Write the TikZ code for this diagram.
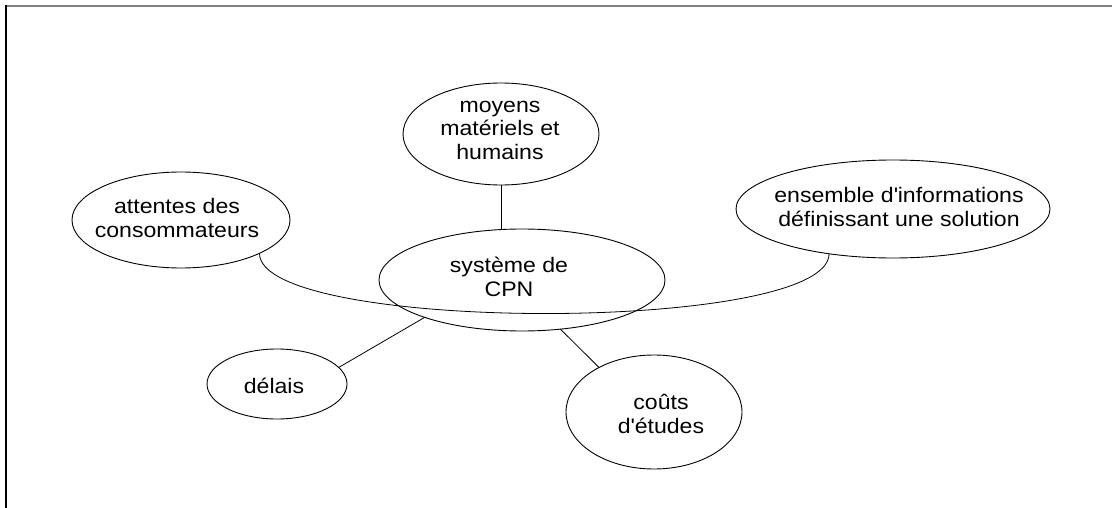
\documentclass[tikz,border=0pt]{standalone}
\usepackage{fontspec}
\setmainfont{Liberation Sans}[FakeStretch=1.1]
\usetikzlibrary{shapes.geometric}
\begin{document}
\begin{tikzpicture}
            [x=1pt, y=-1pt,
            ovale/.style={draw=black, ellipse, inner sep=0pt, outer sep=0pt, line width=0.9pt},
            texte/.style={inner sep=0pt, align=center, font=\fontsize{21}{23.5}\selectfont},
            lien/.style={draw=black, line width=0.8pt}]
            \useasboundingbox (0,0) rectangle (1112,508);
            \draw[gray, line width=2pt] (5,6) -- (1112,6);
            \draw[line width=2pt] (6,5) -- (6,508);
            % bulles
            \node[ovale, minimum width=286pt, minimum height=102pt] (sys) at (522,280) {};
            \node[ovale, minimum width=196pt, minimum height=102pt] (moy) at (501,134) {};
            \node[ovale, minimum width=218pt, minimum height=96pt] (att) at (181,220) {};
            \node[ovale, minimum width=314pt, minimum height=98pt] (ens) at (893,209) {};
            \node[ovale, minimum width=140pt, minimum height=70pt] (del) at (277,384) {};
            \node[ovale, minimum width=176pt, minimum height=114pt] (cou) at (654,412) {};
            % textes
            \node[texte] (sys-t) at (509,277) {système de\\CPN};
            \node[texte] (moy-t) at (500,130) {moyens\\matériels et\\humains};
            \node[texte] (att-t) at (177,218) {attentes des\\consommateurs};
            \node[texte] (ens-t) at (899,207) {ensemble d\textquotesingle informations\\définissant une solution};
            \node[texte] (del-t) at (274,386) {délais};
            \node[texte] (cou-t) at (661,414) {coûts\\d\textquotesingle études};
            % liens
            \draw[lien] (moy.south) -- (moy.south |- sys.north);
            \draw[lien] (del.15) -- (sys.-159);
            \draw[lien] (cou.141) -- (sys.-52);
            \draw[lien] (att.-23) .. controls +(0,80) and +(0,80) .. (ens.-145);
        \end{tikzpicture}
\end{document}
